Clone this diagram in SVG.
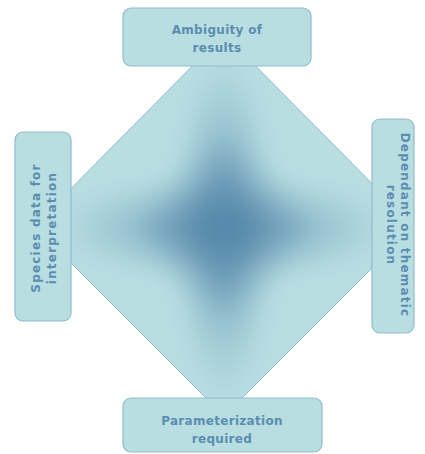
<svg xmlns="http://www.w3.org/2000/svg" width="425" height="454" viewBox="0 0 425 454">
  <style>
    .box { fill: #b8dee2; stroke: #8fbccb; stroke-width: 1.2; }
    .lbl { font-family: "DejaVu Sans", Verdana, sans-serif; font-weight: bold; font-size: 12px; fill: #5b8db0; text-anchor: middle; letter-spacing: 0.3px; }
    .vert { letter-spacing: 1.2px; }
  </style>
  <defs>
    <radialGradient id="glow" cx="0.5" cy="0.5" r="0.5">
      <stop offset="0" stop-color="#5587aa" stop-opacity="0.85"/>
      <stop offset="0.3" stop-color="#5587aa" stop-opacity="0.6"/>
      <stop offset="0.6" stop-color="#5587aa" stop-opacity="0.25"/>
      <stop offset="0.85" stop-color="#5587aa" stop-opacity="0.06"/>
      <stop offset="1" stop-color="#5587aa" stop-opacity="0"/>
    </radialGradient>
    <radialGradient id="core" cx="0.5" cy="0.5" r="0.5">
      <stop offset="0" stop-color="#5587aa" stop-opacity="0.7"/>
      <stop offset="0.5" stop-color="#5587aa" stop-opacity="0.3"/>
      <stop offset="1" stop-color="#5587aa" stop-opacity="0"/>
    </radialGradient>
    <filter id="soft" x="-30%" y="-30%" width="160%" height="160%">
      <feGaussianBlur stdDeviation="8"/>
    </filter>
    <clipPath id="diamondClip">
      <polygon points="224,34 414,226 224,416 34,226"/>
    </clipPath>
  </defs>

  <!-- central diamond with star-shaped shading -->
  <g id="diamond">
    <polygon points="224,34 414,226 224,416 34,226" fill="#b8dee2" stroke="#8fbccb" stroke-width="1"/>
    <g clip-path="url(#diamondClip)">
      <g filter="url(#soft)">
        <ellipse cx="224" cy="228" rx="180" ry="58" fill="url(#glow)"/>
        <ellipse cx="224" cy="228" rx="58" ry="185" fill="url(#glow)"/>
        <ellipse cx="224" cy="228" rx="85" ry="85" fill="url(#core)"/>
      </g>
    </g>
  </g>

  <g id="top">
    <rect class="box" x="123" y="8" width="188" height="58" rx="8"/>
    <text class="lbl" x="217" y="34">Ambiguity of</text>
    <text class="lbl" x="217" y="52">results</text>
  </g>

  <g id="left">
    <rect class="box" x="15" y="132" width="56" height="189" rx="8"/>
    <text class="lbl vert" transform="translate(40,228) rotate(-90)">Species data for</text>
    <text class="lbl vert" transform="translate(56,228) rotate(-90)">interpretation</text>
  </g>

  <g id="right">
    <rect class="box" x="372" y="119" width="42" height="214" rx="8"/>
    <text class="lbl vert" transform="translate(401,225) rotate(90)">Dependant on thematic</text>
    <text class="lbl vert" transform="translate(387,225) rotate(90)">resolution</text>
  </g>

  <g id="bottom">
    <rect class="box" x="123" y="398" width="199" height="54" rx="8"/>
    <text class="lbl" x="222" y="425">Parameterization</text>
    <text class="lbl" x="222" y="443">required</text>
  </g>
</svg>
